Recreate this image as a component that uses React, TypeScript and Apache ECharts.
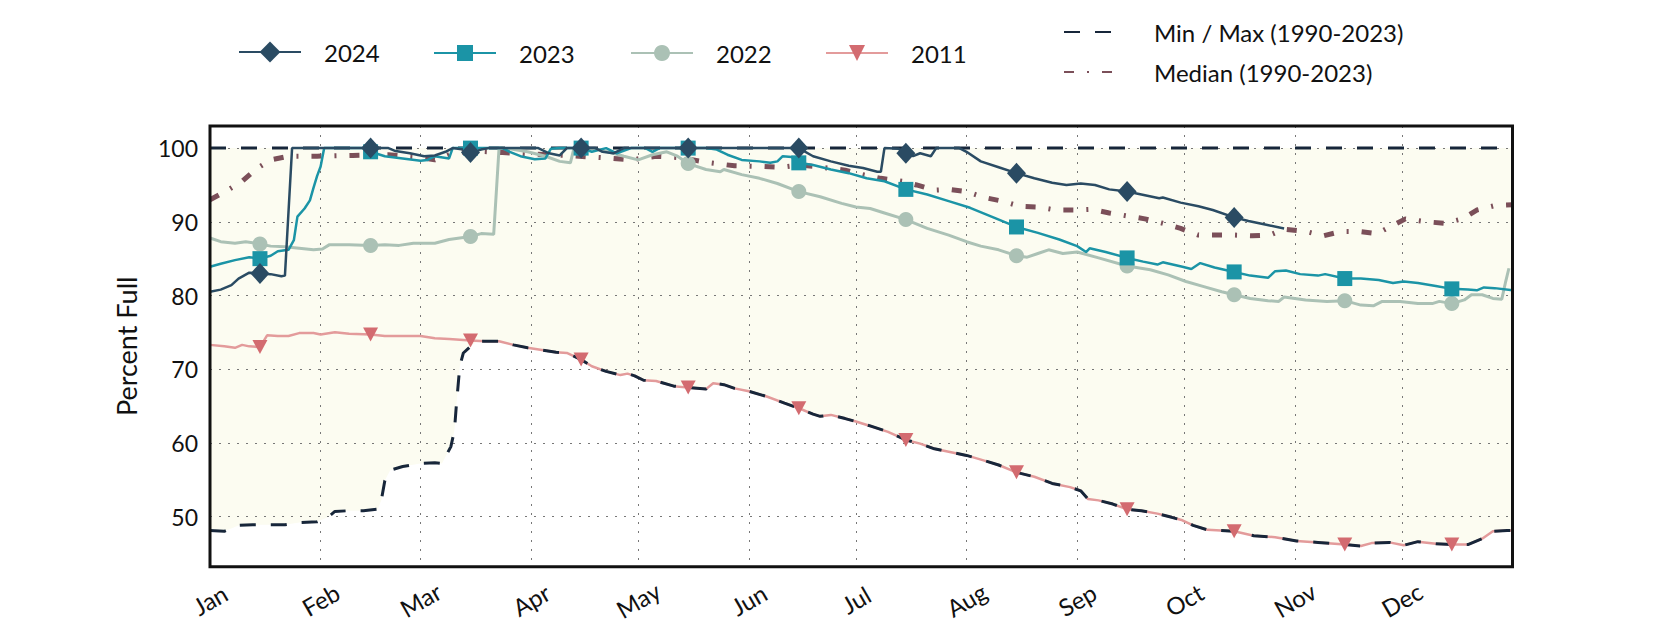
import React, { useEffect, useRef } from "react";
import * as echarts from "echarts";

// ---- axis / tick labels ----
const MONTH_LABELS = ["Jan", "Feb", "Mar", "Apr", "May", "Jun", "Jul", "Aug", "Sep", "Oct", "Nov", "Dec"];
const MONTH_START_DAYS = [0, 31, 59, 90, 120, 151, 181, 212, 243, 273, 304, 334];
const LAST_DAY = 365;
// markers are drawn on the 15th of each month
const MARKER_DAYS = [14, 45, 73, 104, 134, 165, 195, 226, 257, 287, 318, 348];

// ---- series values: [day of year, percent full] ----
const MAX_1990_2023: number[][] = [[0, 100], [365, 100]];

const MIN_1990_2023_EARLY: number[][] = [
  [0, 48.1], [4, 48.0], [8, 48.8], [12, 48.9], [17, 48.9], [21, 48.9], [25, 49.2], [30, 49.3],
  [33, 49.9], [35, 50.7], [39, 50.8], [43, 50.8], [47, 51.0], [48, 52.2], [49, 54.9], [50.5, 56.3],
  [54, 56.8], [59, 57.2], [63, 57.3], [65, 57.2], [67.5, 59.5], [68.5, 61.7], [69, 64.9], [70, 70.4],
  [71, 72.2], [73, 73.1], [75, 73.8],
];

const MEDIAN_1990_2023: number[][] = [
  [0, 93.0], [5, 94.3], [9, 95.5], [13, 97.2], [17, 98.4], [22, 98.9], [30, 98.9], [40, 99.0],
  [50, 99.1], [58, 98.8], [63, 98.4], [68, 99.3], [74, 99.6], [82, 99.4], [90, 99.2], [100, 99.0],
  [110, 98.7], [118, 98.4], [125, 98.9], [132, 98.7], [140, 98.0], [147, 97.6], [155, 97.5],
  [160, 97.4], [165, 97.7], [170, 97.5], [178, 97.0], [183, 96.4], [188, 95.9], [194, 95.5],
  [198, 95.0], [203, 94.3], [207, 94.4], [212, 94.1], [217, 93.3], [222, 92.8], [227, 92.1],
  [232, 92.0], [237, 91.6], [242, 91.6], [247, 91.7], [252, 91.2], [257, 90.8], [262, 90.4],
  [267, 89.8], [272, 89.1], [277, 88.2], [287, 88.2], [292, 88.1], [297, 88.2], [301, 89.0],
  [307, 88.7], [312, 88.1], [317, 88.7], [322, 88.7], [327, 88.4], [331, 89.4], [335, 90.4],
  [341, 90.0], [346, 89.8], [351, 90.4], [355, 91.6], [360, 92.2], [365, 92.3],
];

const Y2024: number[][] = [
  [0, 80.5], [3, 80.8], [6, 81.4], [8, 82.3], [11, 83.1], [14, 83.0], [17, 82.9], [20, 82.6],
  [21, 82.7], [23, 100], [45, 100], [50, 100], [52, 99.6], [56, 99.3], [60, 98.9], [63, 99.0],
  [66, 99.5], [68, 100], [71, 99.8], [73, 99.4], [76, 99.8], [78, 100], [92, 100], [95, 99.3],
  [98, 99.0], [100, 100], [104, 100], [108, 100], [110, 99.5], [113, 99.3], [116, 100], [134, 100],
  [165, 100], [169, 98.9], [174, 98.2], [179, 97.6], [183, 97.3], [187, 96.8], [188, 96.8],
  [189, 100], [193, 99.9], [195, 99.3], [197, 98.9], [199, 99.3], [202, 98.9], [203.5, 100],
  [210, 100], [212, 99.5], [216, 98.2], [221, 97.4], [226, 96.6], [231, 95.9], [236, 95.3],
  [240, 95.0], [244, 95.2], [248, 95.0], [252, 94.4], [257, 94.1], [261, 93.7], [266, 93.2],
  [267, 93.3], [272, 92.6], [277, 92.1], [281, 91.6], [287, 90.6], [291, 90.1], [296, 89.6],
  [301, 89.1],
];

const Y2023: number[][] = [
  [0, 83.9], [3, 84.3], [7, 84.8], [11, 85.2], [14, 85.0], [17, 85.4], [19, 86.0], [22, 86.2],
  [23.5, 87.5], [24.5, 90.7], [26.5, 91.8], [28, 92.9], [29, 94.6], [30, 96.2], [31, 97.5], [32, 100],
  [43, 100], [45, 99.5], [49, 98.9], [54, 98.6], [59, 98.3], [61, 98.4], [63, 98.9], [67, 98.6],
  [68, 100], [73, 100], [82, 100], [84, 99.5], [87, 98.9], [91, 98.5], [94, 98.6], [95.5, 99.9],
  [98, 100], [104, 100], [107, 99.5], [111, 100], [114, 99.3], [118, 100], [122, 100], [124, 99.5],
  [126, 100], [134, 100], [139, 100], [142, 99.8], [145, 99.1], [149, 98.4], [154, 98.2], [157, 98.0],
  [159, 98.2], [160.5, 98.9], [163, 98.8], [165, 98.0], [169, 97.7], [174, 97.1], [179, 96.6],
  [184, 95.9], [189, 95.5], [195, 94.4], [201, 93.7], [207, 92.8], [213, 91.9], [219, 90.7],
  [226, 89.3], [232, 88.5], [238, 87.6], [243, 86.7], [245.5, 85.9], [246.5, 86.4], [251, 85.9],
  [257, 85.1], [261.5, 84.6], [265.5, 84.2], [267, 84.5], [272.5, 83.9], [275, 83.6], [277.5, 84.4],
  [281.5, 83.8], [287, 83.2], [291.5, 82.7], [296.5, 82.4], [298.5, 83.3], [301.5, 83.4],
  [305.5, 82.9], [310.5, 82.7], [312.5, 82.9], [318, 82.3], [322.5, 82.3], [327.5, 82.1],
  [331.5, 81.7], [334.5, 81.9], [338.5, 81.7], [343.5, 81.3], [348, 80.9], [352.5, 80.8],
  [355, 80.7], [357, 81.1], [360, 81.0], [365, 80.7],
];

const Y2022: number[][] = [
  [0, 87.8], [3, 87.3], [7, 87.1], [10, 87.3], [14, 87.0], [17, 86.7], [21, 86.6], [25, 86.4],
  [29, 86.2], [31.5, 86.3], [33.5, 86.9], [39, 86.9], [45, 86.8], [49, 86.9], [53, 86.8], [57, 87.1],
  [63, 87.1], [67, 87.6], [73, 88.0], [76, 88.4], [79.5, 88.3], [81, 100], [84, 99.9], [89, 99.5],
  [94, 98.9], [98, 98.2], [101, 98.0], [102, 100], [104, 100], [109, 99.8], [113, 99.3], [116, 98.9],
  [120, 98.4], [124, 99.1], [128, 99.5], [131, 98.9], [134, 97.9], [139, 97.1], [143, 96.8],
  [144, 97.1], [149, 96.4], [154, 95.9], [159, 95.2], [165, 94.1], [171, 93.4], [177, 92.5],
  [181, 92.0], [185, 91.8], [189, 91.2], [195, 90.3], [201, 89.1], [207, 88.2], [212, 87.3],
  [216, 86.7], [221, 86.2], [226, 85.4], [229, 85.2], [232, 85.7], [235, 86.2], [239, 85.7],
  [243, 85.9], [249, 85.1], [257, 84.0], [263.5, 83.5], [268.5, 82.8], [273.5, 81.9], [278.5, 81.2],
  [283.5, 80.5], [287, 80.1], [291.5, 79.6], [296.5, 79.3], [299.5, 79.2], [301, 79.8], [307, 79.4],
  [313, 79.2], [318, 79.3], [322.5, 78.7], [326, 78.6], [328.5, 79.2], [333.5, 79.2], [338.5, 78.9],
  [342.5, 78.9], [344.5, 79.2], [348, 78.9], [351.5, 79.4], [353.5, 80.1], [356.5, 80.1],
  [359.5, 79.6], [362, 79.5], [363, 81.7], [364, 83.7],
];

const Y2011: number[][] = [
  [0, 73.3], [4, 73.1], [7, 72.9], [9, 73.3], [11, 73.1], [14, 73.0], [16, 74.6], [19, 74.5],
  [22, 74.5], [25, 74.9], [29, 74.9], [31, 74.7], [35, 75.0], [39, 74.8], [45, 74.7], [49, 74.5],
  [54, 74.5], [59, 74.5], [63, 74.2], [67, 74.1], [73, 73.9], [77, 73.8], [81, 73.8], [85, 73.3],
  [89, 72.9], [93, 72.6], [97, 72.3], [100, 72.2], [104, 71.3], [107, 70.4], [111, 69.7], [115, 69.2],
  [117, 69.4], [119, 69.1], [121.5, 68.5], [125, 68.4], [130, 67.7], [134, 67.5], [139, 67.3],
  [141, 68.1], [144, 67.9], [147, 67.4], [151, 67.0], [156, 66.3], [161, 65.4], [165, 64.7],
  [169, 63.9], [171, 63.6], [174, 63.8], [178, 63.3], [181, 62.9], [185, 62.3], [190, 61.5],
  [195, 60.4], [199, 59.9], [203, 59.2], [207, 58.8], [212, 58.3], [217, 57.6], [221, 57.0],
  [226, 56.0], [231, 55.4], [236, 54.5], [241, 54.0], [244, 53.5], [246, 52.4], [249, 52.2],
  [253, 51.7], [257, 51.0], [261, 50.8], [265.5, 50.4], [269.5, 49.9], [272.5, 49.5], [275.5, 48.8],
  [279.5, 48.2], [287, 48.0], [292.5, 47.4], [298.5, 47.2], [304.5, 46.7], [310.5, 46.5], [318, 46.2],
  [322.5, 46.0], [325.5, 46.4], [330.5, 46.5], [334.5, 46.1], [338.5, 46.6], [343.5, 46.3],
  [348, 46.2], [352.5, 46.2], [356.5, 47.0], [359.5, 48.0], [363.5, 48.1], [365, 48.1],
];

// after mid-March the record minimum is the 2011 curve itself
const MIN_SWITCH_DAY = 75;

const FONT = "Lato";
const TEXT = "#111111";
const C2024 = "#2a4b63";
const C2023 = "#1b94a6";
const C2022 = "#abc1b5";
const C2011_LINE = "#e39b9b";
const C2011_MARK = "#d36b70";
const CMINMAX = "#17263a";
const CMEDIAN = "#7b4f59";
const BAND = "#fcfcf1";
const GRID = "#777777";

const MINMAX_NAME = "Min / Max (1990-2023)";
const MEDIAN_NAME = "Median (1990-2023)";

function withMarkers(points: number[][]) {
  return points.map(([d, v]) =>
    MARKER_DAYS.indexOf(d) >= 0 ? [d, v] : { value: [d, v], symbol: "none" }
  );
}

export default function App() {
  const ref = useRef<HTMLDivElement>(null);

  useEffect(() => {
    if (!ref.current) return;
    const chart = echarts.init(ref.current, undefined, { renderer: "svg" });

    const minData = MIN_1990_2023_EARLY.concat(Y2011.filter(([d]) => d > MIN_SWITCH_DAY));

    const dayCategories = Array.from({ length: LAST_DAY + 1 }, (_, i) => {
      const m = MONTH_START_DAYS.indexOf(i);
      return m >= 0 ? MONTH_LABELS[m] : "d" + i;
    });
    const isMonthStart = (i: number) => MONTH_START_DAYS.indexOf(i) >= 0;

    const line = {
      type: "line",
      xAxisIndex: 1,
      yAxisIndex: 0,
      z: 3,
      silent: true,
      showSymbol: true,
    };
    const minMaxStyle = { color: CMINMAX, width: 3, type: [16, 15] };

    const legendCommon = {
      orient: "horizontal",
      padding: 0,
      itemGap: 0,
      selectedMode: false,
      textStyle: { fontFamily: FONT, fontSize: 24, color: TEXT, padding: [0, 0, 0, 18] },
    };

    const option: any = {
      animation: false,
      backgroundColor: "#ffffff",
      textStyle: { fontFamily: FONT },
      grid: {
        show: true,
        z: 10,
        left: 210,
        right: 167.5,
        top: 126,
        bottom: 63.3,
        backgroundColor: "transparent",
        borderColor: "#111111",
        borderWidth: 3,
      },
      legend: [
        { ...legendCommon, data: ["2024"], left: 238, top: 40, itemWidth: 62, itemHeight: 26 },
        { ...legendCommon, data: ["2023"], left: 433, top: 41, itemWidth: 62, itemHeight: 20 },
        { ...legendCommon, data: ["2022"], left: 630, top: 41, itemWidth: 62, itemHeight: 20 },
        { ...legendCommon, data: ["2011"], left: 825, top: 41, itemWidth: 62, itemHeight: 20 },
        {
          ...legendCommon,
          data: [MINMAX_NAME],
          left: 1063,
          top: 20,
          itemWidth: 49,
          itemHeight: 14,
          itemStyle: { opacity: 0 },
          textStyle: { ...legendCommon.textStyle, padding: [0, 0, 0, 36] },
        },
        {
          ...legendCommon,
          data: [MEDIAN_NAME],
          left: 1063,
          top: 60,
          itemWidth: 49,
          itemHeight: 14,
          itemStyle: { opacity: 0 },
          textStyle: { ...legendCommon.textStyle, padding: [0, 0, 0, 36] },
        },
      ],
      xAxis: [
        {
          type: "category",
          data: dayCategories,
          boundaryGap: false,
          position: "bottom",
          z: 2,
          axisLine: { show: false },
          axisTick: { show: false },
          axisLabel: {
            interval: (i: number) => isMonthStart(i),
            rotate: 30,
            align: "center",
            verticalAlign: "middle",
            margin: 33,
            fontFamily: FONT,
            fontSize: 24,
            color: TEXT,
          },
          splitLine: {
            show: true,
            interval: (i: number) => isMonthStart(i),
            lineStyle: { color: GRID, width: 1, type: [2, 7] },
          },
        },
        { type: "value", min: 0, max: LAST_DAY, show: false },
      ],
      yAxis: {
        type: "value",
        min: 43.2,
        max: 103,
        splitNumber: 6,
        minInterval: 10,
        maxInterval: 10,
        z: 2,
        axisLine: { show: false },
        axisTick: { show: false },
        axisLabel: {
          formatter: (v: number) => (Math.abs(v % 10) < 1e-6 ? String(v) : ""),
          fontFamily: FONT,
          fontSize: 23,
          color: TEXT,
          margin: 12,
        },
        splitLine: { show: true, lineStyle: { color: GRID, width: 1, type: [2, 7] } },
        name: "Percent Full",
        nameLocation: "middle",
        nameGap: 70,
        nameTextStyle: { fontFamily: FONT, fontSize: 27, color: TEXT },
      },
      series: [
        {
          // shaded band between record minimum and record maximum
          type: "custom",
          name: "_band",
          xAxisIndex: 1,
          yAxisIndex: 0,
          z: 1,
          silent: true,
          data: minData,
          renderItem: (params: any, api: any) => {
            if (params.dataIndex !== 0) return null;
            const lower = minData.map((p) => api.coord(p));
            const upper = MAX_1990_2023.slice()
              .reverse()
              .map((p) => api.coord(p));
            return {
              type: "polygon",
              shape: { points: lower.concat(upper) },
              style: { fill: BAND, stroke: "none" },
            };
          },
        },
        {
          ...line,
          name: MEDIAN_NAME,
          data: MEDIAN_1990_2023,
          symbol: "none",
          itemStyle: { color: CMEDIAN },
          lineStyle: { color: CMEDIAN, width: 5, type: [10, 13, 2, 13] },
        },
        {
          ...line,
          name: "2011",
          data: withMarkers(Y2011),
          symbol: "triangle",
          symbolRotate: 180,
          symbolSize: [15, 14],
          itemStyle: { color: C2011_MARK },
          lineStyle: { color: C2011_LINE, width: 2.5 },
        },
        {
          ...line,
          name: MINMAX_NAME,
          data: minData,
          symbol: "none",
          itemStyle: { color: CMINMAX },
          lineStyle: minMaxStyle,
        },
        {
          ...line,
          name: MINMAX_NAME,
          data: MAX_1990_2023,
          symbol: "none",
          itemStyle: { color: CMINMAX },
          lineStyle: minMaxStyle,
        },
        {
          ...line,
          name: "2022",
          data: withMarkers(Y2022),
          symbol: "circle",
          symbolSize: 15,
          itemStyle: { color: C2022 },
          lineStyle: { color: C2022, width: 3 },
        },
        {
          ...line,
          name: "2023",
          data: withMarkers(Y2023),
          symbol: "rect",
          symbolSize: 15,
          itemStyle: { color: C2023 },
          lineStyle: { color: C2023, width: 2.5 },
        },
        {
          ...line,
          name: "2024",
          data: withMarkers(Y2024),
          symbol: "diamond",
          symbolSize: [19, 21],
          itemStyle: { color: C2024 },
          lineStyle: { color: C2024, width: 2.5 },
        },
      ],
    };

    chart.setOption(option);
    return () => chart.dispose();
  }, []);

  return (
    <div
      ref={ref}
      style={{ position: "fixed", left: 0, top: 0, width: 1680, height: 630, background: "#fff" }}
    />
  );
}
